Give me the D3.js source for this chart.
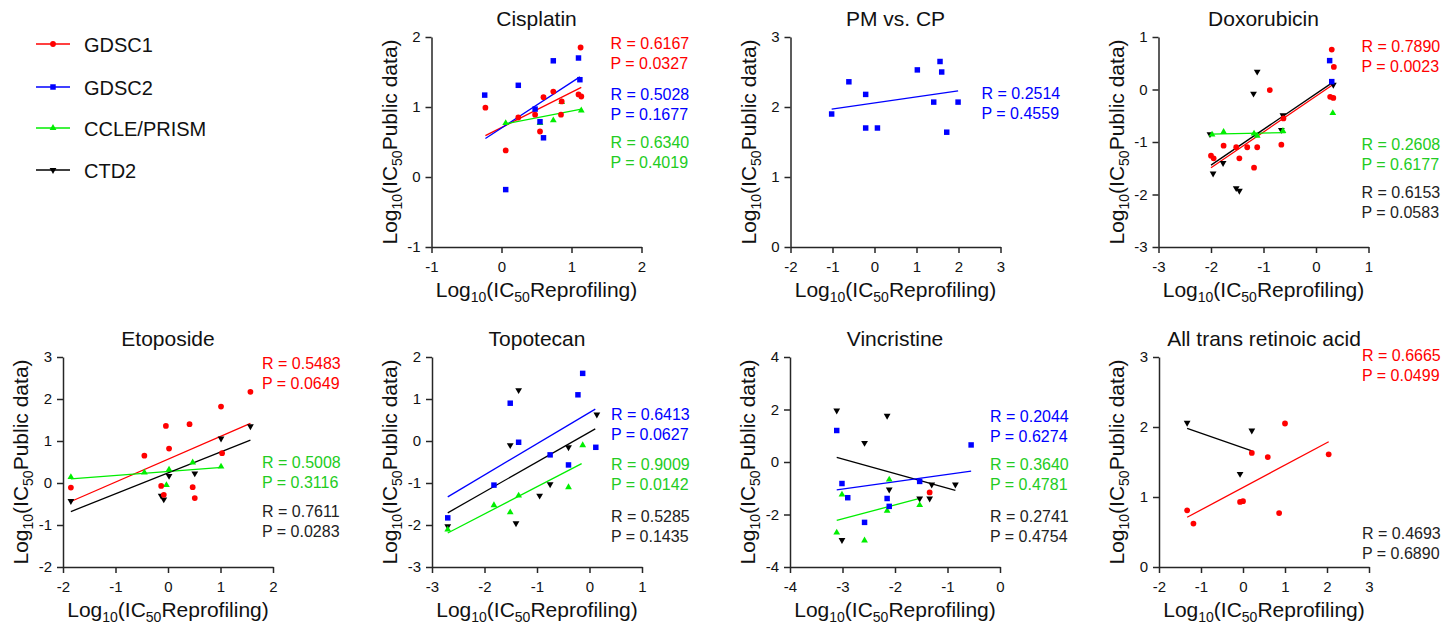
<!DOCTYPE html>
<html>
<head>
<meta charset="utf-8">
<script src="https://cdn.jsdelivr.net/npm/d3@7"></script>
<style>
  body { margin: 0; background: #fff; }
  svg { display: block; font-family: Arial, "Liberation Sans", sans-serif; }
</style>
</head>
<body>
<svg id="chart" width="1455" height="625"></svg>
<script>
const seriesNames = ['GDSC1', 'GDSC2', 'CCLE/PRISM', 'CTD2'];

const titles = ['Cisplatin', 'PM vs. CP', 'Doxorubicin', 'Etoposide', 'Topotecan', 'Vincristine', 'All trans retinoic acid'];
const xTicks = [[-1, 0, 1, 2], [-2, -1, 0, 1, 2, 3], [-3, -2, -1, 0, 1], [-2, -1, 0, 1, 2], [-3, -2, -1, 0, 1], [-4, -3, -2, -1, 0], [-2, -1, 0, 1, 2, 3]];
const yTicks = [[-1, 0, 1, 2], [0, 1, 2, 3], [-3, -2, -1, 0, 1], [-2, -1, 0, 1, 2, 3], [-3, -2, -1, 0, 1, 2], [-4, -2, 0, 2, 4], [0, 1, 2, 3]];

// points: [series, log10 IC50 reprofiling, log10 IC50 public]
const cisplatinPts = [
  ['CCLE/PRISM', 0.06, 0.77], ['CCLE/PRISM', 0.55, 0.77], ['CCLE/PRISM', 0.74, 0.81], ['CCLE/PRISM', 0.86, 1.07], ['CCLE/PRISM', 1.14, 0.95],
  ['GDSC1', 1.13, 1.85], ['GDSC1', -0.23, 0.99], ['GDSC1', 0.06, 0.38], ['GDSC1', 0.24, 0.85], ['GDSC1', 0.60, 1.14], ['GDSC1', 0.74, 1.22],
  ['GDSC1', 0.48, 0.89], ['GDSC1', 0.55, 0.65], ['GDSC1', 0.86, 1.08], ['GDSC1', 0.85, 0.89], ['GDSC1', 1.10, 1.18], ['GDSC1', 1.14, 1.15],
  ['GDSC2', -0.24, 1.17], ['GDSC2', 0.24, 1.31], ['GDSC2', 0.74, 1.66], ['GDSC2', 1.10, 1.70], ['GDSC2', 1.12, 1.39], ['GDSC2', 0.48, 0.97],
  ['GDSC2', 0.55, 0.79], ['GDSC2', 0.60, 0.56], ['GDSC2', 0.06, -0.18]
];
const pmcpPts = [
  ['GDSC2', -1.02, 1.90], ['GDSC2', -0.61, 2.36], ['GDSC2', -0.21, 2.18], ['GDSC2', -0.21, 1.70], ['GDSC2', 0.07, 1.70], ['GDSC2', 1.02, 2.53],
  ['GDSC2', 1.56, 2.65], ['GDSC2', 1.60, 2.50], ['GDSC2', 1.41, 2.07], ['GDSC2', 1.72, 1.64], ['GDSC2', 1.99, 2.07]
];
const doxorubicinPts = [
  ['CTD2', -2.02, -0.85], ['CTD2', -1.96, -1.60], ['CTD2', -1.77, -1.40], ['CTD2', -1.52, -1.88], ['CTD2', -1.46, -1.93], ['CTD2', -1.19, -0.08],
  ['CTD2', -1.12, 0.34], ['CTD2', -0.63, -0.49], ['CTD2', -0.66, -0.77], ['CTD2', 0.33, 0.09],
  ['CCLE/PRISM', -1.98, -0.86], ['CCLE/PRISM', -1.76, -0.81], ['CCLE/PRISM', -1.18, -0.84], ['CCLE/PRISM', -1.12, -0.88], ['CCLE/PRISM', -0.63, -0.79], ['CCLE/PRISM', 0.32, -0.45],
  ['GDSC1', 0.30, 0.76], ['GDSC1', 0.34, 0.43], ['GDSC1', 0.27, -0.14], ['GDSC1', 0.33, -0.16], ['GDSC1', -0.88, -0.01], ['GDSC1', -0.62, -0.55],
  ['GDSC1', -0.66, -1.05], ['GDSC1', -2.00, -1.26], ['GDSC1', -1.95, -1.31], ['GDSC1', -1.76, -1.07], ['GDSC1', -1.52, -1.10], ['GDSC1', -1.46, -1.31],
  ['GDSC1', -1.31, -1.10], ['GDSC1', -1.12, -1.10], ['GDSC1', -1.18, -1.49],
  ['GDSC2', 0.26, 0.55], ['GDSC2', 0.30, 0.15]
];
const etoposidePts = [
  ['CTD2', -1.85, -0.43], ['CTD2', -0.13, -0.30], ['CTD2', -0.08, -0.39], ['CTD2', 0.02, 0.17], ['CTD2', 0.51, 0.23], ['CTD2', 1.01, 1.06], ['CTD2', 1.57, 1.35],
  ['CCLE/PRISM', -1.85, 0.14], ['CCLE/PRISM', -0.45, 0.25], ['CCLE/PRISM', -0.03, -0.05], ['CCLE/PRISM', 0.02, 0.32], ['CCLE/PRISM', 0.47, 0.49], ['CCLE/PRISM', 1.01, 0.39],
  ['GDSC1', -1.85, -0.11], ['GDSC1', -0.45, 0.65], ['GDSC1', -0.04, 1.36], ['GDSC1', 0.02, 0.82], ['GDSC1', 0.41, 1.40], ['GDSC1', -0.13, -0.07],
  ['GDSC1', -0.08, -0.28], ['GDSC1', 0.47, -0.10], ['GDSC1', 0.51, -0.36], ['GDSC1', 1.01, 1.82], ['GDSC1', 1.03, 0.71], ['GDSC1', 1.57, 2.17]
];
const topotecanPts = [
  ['CTD2', -2.70, -2.03], ['CTD2', -1.51, -0.10], ['CTD2', -1.35, 1.21], ['CTD2', -1.40, -1.96], ['CTD2', -0.95, -1.30], ['CTD2', -0.75, -1.03],
  ['CTD2', -0.40, -0.15], ['CTD2', 0.14, 0.63],
  ['CCLE/PRISM', -2.70, -2.11], ['CCLE/PRISM', -1.82, -1.53], ['CCLE/PRISM', -1.51, -1.70], ['CCLE/PRISM', -1.35, -1.30], ['CCLE/PRISM', -0.40, -1.10], ['CCLE/PRISM', -0.13, -0.10],
  ['GDSC2', -2.70, -1.83], ['GDSC2', -1.82, -1.05], ['GDSC2', -1.51, 0.90], ['GDSC2', -1.35, -0.03], ['GDSC2', -0.75, -0.33], ['GDSC2', -0.40, -0.57],
  ['GDSC2', -0.22, 1.10], ['GDSC2', -0.13, 1.61], ['GDSC2', 0.12, -0.15]
];
const vincristinePts = [
  ['CTD2', -3.11, 1.96], ['CTD2', -3.01, -2.97], ['CTD2', -2.58, 0.73], ['CTD2', -2.15, 1.76], ['CTD2', -2.11, -1.05], ['CTD2', -1.53, -1.39],
  ['CTD2', -1.34, -1.39], ['CTD2', -1.30, -0.86], ['CTD2', -0.85, -0.86],
  ['CCLE/PRISM', -3.11, -2.69], ['CCLE/PRISM', -3.01, -1.24], ['CCLE/PRISM', -2.58, -2.99], ['CCLE/PRISM', -2.15, -1.86], ['CCLE/PRISM', -2.11, -0.67], ['CCLE/PRISM', -1.53, -1.64],
  ['GDSC1', -1.34, -1.16],
  ['GDSC2', -3.11, 1.20], ['GDSC2', -3.01, -0.82], ['GDSC2', -2.90, -1.36], ['GDSC2', -2.58, -2.30], ['GDSC2', -2.15, -1.39], ['GDSC2', -2.11, -1.69],
  ['GDSC2', -1.53, -0.74], ['GDSC2', -0.55, 0.65]
];
const atraPts = [
  ['CTD2', -1.33, 2.06], ['CTD2', -0.07, 1.33], ['CTD2', 0.21, 1.95],
  ['GDSC1', -1.33, 0.81], ['GDSC1', -1.18, 0.62], ['GDSC1', -0.07, 0.93], ['GDSC1', 0.00, 0.94], ['GDSC1', 0.21, 1.63], ['GDSC1', 0.59, 1.57],
  ['GDSC1', 1.00, 2.05], ['GDSC1', 0.86, 0.77], ['GDSC1', 2.04, 1.61]
];

// fitted lines: [series, x1, y1, x2, y2]
const cisplatinFits = [['GDSC1', -0.23, 0.59, 1.14, 1.28], ['GDSC2', -0.23, 0.55, 1.12, 1.43], ['CCLE/PRISM', 0.06, 0.76, 1.14, 0.97]];
const pmcpFits = [['GDSC2', -1.02, 1.97, 1.99, 2.23]];
const doxorubicinFits = [['GDSC1', -2.00, -1.49, 0.32, 0.09], ['CCLE/PRISM', -2.02, -0.85, -0.58, -0.82], ['CTD2', -2.00, -1.44, 0.34, 0.15]];
const etoposideFits = [['GDSC1', -1.85, -0.44, 1.57, 1.42], ['CCLE/PRISM', -1.85, 0.10, 1.03, 0.37], ['CTD2', -1.85, -0.68, 1.57, 1.02]];
const topotecanFits = [['GDSC2', -2.70, -1.33, 0.11, 0.76], ['CTD2', -2.70, -1.71, 0.11, 0.29], ['CCLE/PRISM', -2.70, -2.19, -0.15, -0.54]];
const vincristineFits = [['CTD2', -3.11, 0.18, -0.85, -1.08], ['GDSC2', -3.11, -1.06, -0.55, -0.35], ['CCLE/PRISM', -3.11, -2.22, -1.53, -1.39]];
const atraFits = [['CTD2', -1.33, 1.98, 0.21, 1.66], ['GDSC1', -1.33, 0.71, 2.04, 1.79]];

// correlation stats: [series, R, P]
const cisplatinStats = [['GDSC1', '0.6167', '0.0327'], ['GDSC2', '0.5028', '0.1677'], ['CCLE/PRISM', '0.6340', '0.4019']];
const pmcpStats = [['GDSC2', '0.2514', '0.4559']];
const doxorubicinStats = [['GDSC1', '0.7890', '0.0023'], ['CCLE/PRISM', '0.2608', '0.6177'], ['CTD2', '0.6153', '0.0583']];
const etoposideStats = [['GDSC1', '0.5483', '0.0649'], ['CCLE/PRISM', '0.5008', '0.3116'], ['CTD2', '0.7611', '0.0283']];
const topotecanStats = [['GDSC2', '0.6413', '0.0627'], ['CCLE/PRISM', '0.9009', '0.0142'], ['CTD2', '0.5285', '0.1435']];
const vincristineStats = [['GDSC2', '0.2044', '0.6274'], ['CCLE/PRISM', '0.3640', '0.4781'], ['CTD2', '0.2741', '0.4754']];
const atraStats = [['GDSC1', '0.6665', '0.0499'], ['CTD2', '0.4693', '0.6890']];

const panelPts = [cisplatinPts, pmcpPts, doxorubicinPts, etoposidePts, topotecanPts, vincristinePts, atraPts];
const panelFits = [cisplatinFits, pmcpFits, doxorubicinFits, etoposideFits, topotecanFits, vincristineFits, atraFits];
const panelStats = [cisplatinStats, pmcpStats, doxorubicinStats, etoposideStats, topotecanStats, vincristineStats, atraStats];

// layout
const plotSize = 210;
const panelBox = [[431.5, 37], [790.5, 37], [1158.5, 37], [63, 357], [432, 357], [790, 357], [1159, 357]];
const statX = [179, 191, 203, 199, 179, 200, 203];
const statY = [[12, 63, 111], [62], [15, 113, 161], [12, 111, 160], [63, 113, 165], [65, 113, 165], [4, 182]];

const color = d3.scaleOrdinal().domain(seriesNames).range(['#ff0000', '#0000ff', '#00ee00', '#000000']);
const textColor = d3.scaleOrdinal().domain(seriesNames).range(['#ff0000', '#0000ff', '#22cc22', '#222222']);
const symbolOf = {
  'GDSC1': d3.symbol(d3.symbolCircle, 26),
  'GDSC2': d3.symbol(d3.symbolSquare, 30),
  'CCLE/PRISM': d3.symbol(d3.symbolTriangle, 20),
  'CTD2': d3.symbol(d3.symbolTriangle, 20)
};
const drawOrder = ['CTD2', 'CCLE/PRISM', 'GDSC1', 'GDSC2'];

const svg = d3.select('#chart');
const axisColor = '#262626';

function styleAxis(g) {
  g.select('.domain').attr('stroke', axisColor).attr('stroke-width', 1.5);
  g.selectAll('.tick line').attr('stroke', axisColor).attr('stroke-width', 1.5);
  g.selectAll('.tick text').attr('fill', '#111').style('font-size', '15px').style('font-family', 'Arial, "Liberation Sans", sans-serif');
}

function labelWithSubs(text, parts) {
  parts.forEach(p => {
    text.append('tspan').text(p[0]);
    text.append('tspan').attr('dy', 5).style('font-size', '14px').text(p[1]);
    text.append('tspan').attr('dy', -5).text('');
  });
}

function addLabel(text, tail) {
  text.append('tspan').text('Log');
  text.append('tspan').attr('dy', 5).style('font-size', '14px').text('10');
  text.append('tspan').attr('dy', -5).text('(IC');
  text.append('tspan').attr('dy', 5).style('font-size', '14px').text('50');
  text.append('tspan').attr('dy', -5).text(tail);
}

panelPts.forEach((pts, i) => {
  const [left, top] = panelBox[i];
  const x = d3.scaleLinear().domain(d3.extent(xTicks[i])).range([left, left + plotSize]);
  const y = d3.scaleLinear().domain(d3.extent(yTicks[i])).range([top + plotSize, top]);
  const g = svg.append('g');

  g.append('g')
    .attr('transform', `translate(0,${top + plotSize})`)
    .call(d3.axisBottom(x).tickValues(xTicks[i]).tickSize(6).tickSizeOuter(0).tickPadding(8).tickFormat(d => String(d)))
    .call(styleAxis);

  g.append('g')
    .attr('transform', `translate(${left},0)`)
    .call(d3.axisLeft(y).tickValues(yTicks[i]).tickSize(6).tickSizeOuter(0).tickPadding(5).tickFormat(d => String(d)))
    .call(styleAxis);

  // title
  g.append('text')
    .attr('x', left + plotSize / 2)
    .attr('y', top - 11)
    .attr('text-anchor', 'middle')
    .style('font-size', '21px')
    .attr('fill', '#111')
    .text(titles[i]);

  // axis titles
  const xt = g.append('text')
    .attr('x', left + plotSize / 2)
    .attr('y', top + plotSize + 50)
    .attr('text-anchor', 'middle')
    .style('font-size', '21px')
    .attr('fill', '#111');
  addLabel(xt, 'Reprofiling)');

  const yt = g.append('text')
    .attr('transform', `translate(${left - 35},${top + plotSize / 2}) rotate(-90)`)
    .attr('text-anchor', 'middle')
    .style('font-size', '21px')
    .attr('fill', '#111');
  addLabel(yt, 'Public data)');

  // fitted lines
  g.selectAll('line.fit')
    .data(panelFits[i])
    .enter()
    .append('line')
    .classed('fit', true)
    .attr('x1', d => x(d[1]))
    .attr('y1', d => y(d[2]))
    .attr('x2', d => x(d[3]))
    .attr('y2', d => y(d[4]))
    .attr('stroke', d => color(d[0]))
    .attr('stroke-width', 1.3);

  // points
  const sorted = pts.slice().sort((a, b) => drawOrder.indexOf(a[0]) - drawOrder.indexOf(b[0]));
  g.selectAll('path.pt')
    .data(sorted)
    .enter()
    .append('path')
    .classed('pt', true)
    .attr('d', d => symbolOf[d[0]]())
    .attr('transform', d => `translate(${x(d[1])},${y(d[2])})` + (d[0] === 'CTD2' ? ' rotate(180)' : ''))
    .attr('fill', d => color(d[0]));

  // stats
  panelStats[i].forEach((s, k) => {
    const by = top + statY[i][k];
    g.append('text')
      .attr('x', left + statX[i])
      .attr('y', by)
      .style('font-size', '16px')
      .attr('fill', textColor(s[0]))
      .text('R = ' + s[1]);
    g.append('text')
      .attr('x', left + statX[i])
      .attr('y', by + 19.5)
      .style('font-size', '16px')
      .attr('fill', textColor(s[0]))
      .text('P = ' + s[2]);
  });
});

// legend
const legendY = [44, 87, 128, 170];
const legend = svg.append('g');
seriesNames.forEach((name, k) => {
  const ly = legendY[k];
  legend.append('line')
    .attr('x1', 36).attr('x2', 70)
    .attr('y1', ly).attr('y2', ly)
    .attr('stroke', color(name))
    .attr('stroke-width', 1.5);
  legend.append('path')
    .attr('d', symbolOf[name]())
    .attr('transform', `translate(53,${ly})` + (name === 'CTD2' ? ' rotate(180)' : ''))
    .attr('fill', color(name));
  legend.append('text')
    .attr('x', 84)
    .attr('y', ly + 7.5)
    .style('font-size', '20px')
    .attr('fill', '#111')
    .text(name);
});
</script>
</body>
</html>
